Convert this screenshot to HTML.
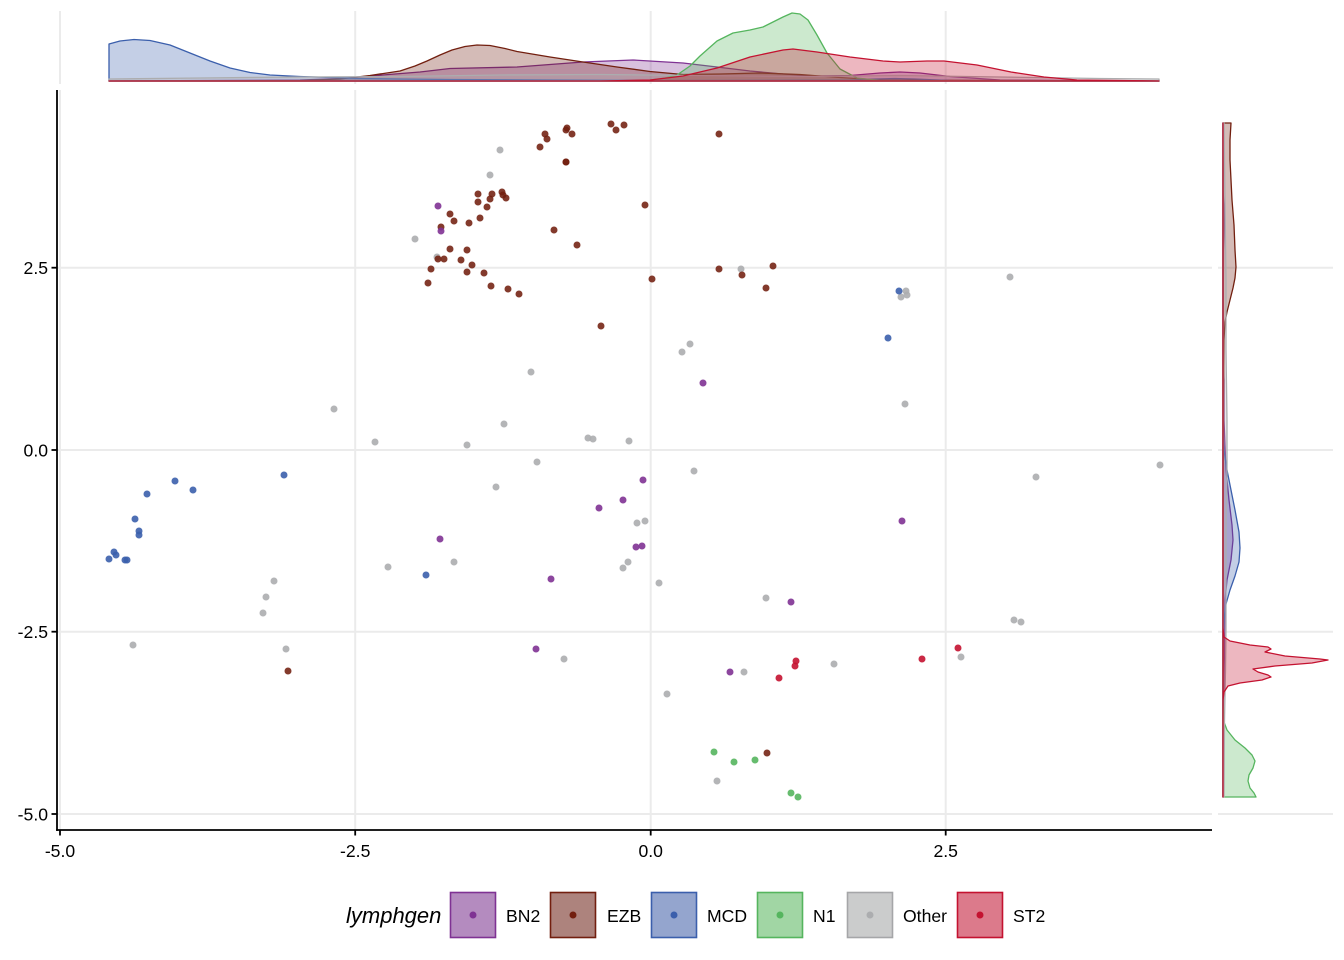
<!DOCTYPE html>
<html>
<head>
<meta charset="utf-8">
<style>
  html,body{margin:0;padding:0;background:#fff;}
  svg{display:block;}
  text{font-family:"Liberation Sans",Arial,sans-serif;fill:#000;}
</style>
</head>
<body>
<svg width="1344" height="960" viewBox="0 0 1344 960" xmlns="http://www.w3.org/2000/svg">
  <rect width="1344" height="960" fill="#fff"/>

  <!-- ===== Top marginal panel gridlines ===== -->
  <g stroke="#EBEBEB" stroke-width="2">
    <line x1="60" y1="11" x2="60" y2="84"/>
    <line x1="355.2" y1="11" x2="355.2" y2="84"/>
    <line x1="650.7" y1="11" x2="650.7" y2="84"/>
    <line x1="945.7" y1="11" x2="945.7" y2="84"/>
  </g>

  <!-- ===== Right marginal panel gridlines ===== -->
  <g stroke="#EBEBEB" stroke-width="2">
    <line x1="1218" y1="267.7" x2="1333" y2="267.7"/>
    <line x1="1218" y1="450" x2="1333" y2="450"/>
    <line x1="1218" y1="631.7" x2="1333" y2="631.7"/>
    <line x1="1218" y1="814" x2="1333" y2="814"/>
  </g>

  <!-- ===== Main panel gridlines ===== -->
  <g stroke="#EBEBEB" stroke-width="2">
    <line x1="60" y1="90" x2="60" y2="830"/>
    <line x1="355.2" y1="90" x2="355.2" y2="830"/>
    <line x1="650.7" y1="90" x2="650.7" y2="830"/>
    <line x1="945.7" y1="90" x2="945.7" y2="830"/>
    <line x1="57" y1="267.7" x2="1212" y2="267.7"/>
    <line x1="57" y1="450" x2="1212" y2="450"/>
    <line x1="57" y1="631.7" x2="1212" y2="631.7"/>
    <line x1="57" y1="814" x2="1212" y2="814"/>
  </g>

  <!-- ===== Top densities ===== -->
  <g stroke-width="1.3" stroke-linejoin="round" fill-opacity="0.3">
    <!-- BN2 -->
    <path fill="#7F3293" stroke="#7F3293" d="M109,81 L300,80 L340,78.5 L370,76 L420,72 L450,68.5 L517,67 L583,62 L633,60 L683,63 L717,67 L750,71 L783,74 L817,76 L850,75.5 L880,73 L900,72 L920,73 L950,76.5 L1000,80 L1159,81 Z"/>
    <!-- EZB -->
    <path fill="#721F0F" stroke="#721F0F" d="M109,81 L300,80.5 L340,79 L370,75.5 L400,71 L415,66 L427,61 L440,55 L452,50 L465,46.5 L477,45 L490,45.5 L505,48.5 L517,51.5 L550,57 L583,62 L617,67 L650,71.5 L683,74.5 L720,74 L760,73 L800,74.5 L840,77.5 L880,80 L1159,81 Z"/>
    <!-- MCD -->
    <path fill="#3B5FAC" stroke="#3B5FAC" d="M109,81 L109,44 L120,41 L134,39.5 L150,40.5 L170,45 L190,53 L210,61 L230,68 L250,72.5 L270,75 L300,76.5 L330,77.5 L360,78.5 L400,79 L450,79.5 L550,80 L650,80.5 L850,80 L875,79 L895,78.5 L915,79 L950,80.5 L1159,81 Z"/>
    <!-- N1 -->
    <path fill="#55B55E" stroke="#55B55E" d="M109,81 L620,81 L650,80 L665,78 L677,75 L690,66 L700,56 L717,41 L733,33 L750,30 L763,27 L775,21 L783,17 L792,13 L800,14 L808,20 L817,35 L827,53 L840,69 L857,78 L880,80.5 L1159,81 Z"/>
    <!-- Other -->
    <path fill="#ACADAF" stroke="#ACADAF" d="M109,81 L109,79 L200,78 L300,77 L400,76.5 L500,75 L600,74.5 L700,75.5 L800,76.5 L900,75.5 L1000,77 L1100,78.5 L1159,79 L1159,81 Z"/>
    <!-- ST2 -->
    <path fill="#C41230" stroke="#C41230" d="M109,81 L600,81 L650,80 L683,76 L717,68 L750,57 L783,50 L793,49 L817,52 L850,57 L883,61 L900,62 L927,61 L944,61 L977,65 L1011,72 L1044,77 L1077,80 L1159,81 Z"/>
  </g>

  <!-- ===== Right densities ===== -->
  <g stroke-width="1.3" stroke-linejoin="round" fill-opacity="0.3">
    <!-- BN2 -->
    <path fill="#7F3293" stroke="#7F3293" d="M1223,123 L1223,190 L1224.5,215 L1223.5,250 L1223,360 L1224,380 L1224,420 L1226,470 L1229,500 L1232,525 L1233,540 L1231,560 L1227,580 L1225,600 L1224.5,650 L1224,680 L1223,720 L1223,797 Z"/>
    <!-- EZB -->
    <path fill="#721F0F" stroke="#721F0F" d="M1223,123 L1231,123 L1230,140 L1230,160 L1231,180 L1232,200 L1234,225 L1235,250 L1236,267 L1235,278 L1233,288 L1230,300 L1227,312 L1225,322 L1224,340 L1223.5,400 L1223,797 Z"/>
    <!-- MCD -->
    <path fill="#3B5FAC" stroke="#3B5FAC" d="M1223,123 L1223,430 L1224,450 L1227,470 L1231,490 L1235,510 L1239,532 L1240,548 L1239,562 L1235,576 L1230,590 L1226,604 L1224,620 L1223,640 L1223,797 Z"/>
    <!-- N1 -->
    <path fill="#55B55E" stroke="#55B55E" d="M1223,123 L1223,705 L1224,722 L1227,730 L1235,740 L1245,748 L1252,755 L1255,761 L1253,768 L1249,775 L1248,781 L1250,788 L1254,793 L1256,797 L1223,797 Z"/>
    <!-- Other -->
    <path fill="#ACADAF" stroke="#ACADAF" d="M1223,123 L1224,123 L1225,200 L1226,280 L1226,350 L1227,420 L1227,470 L1226,530 L1226,580 L1226,630 L1225.5,670 L1224.5,720 L1224,797 L1223,797 Z"/>
    <!-- ST2 -->
    <path fill="#C41230" stroke="#C41230" d="M1223,123 L1223,628 L1224,637 L1230,641 L1250,645 L1268,647 L1271,649 L1265,652 L1285,656 L1320,659 L1328,660 L1312,663 L1275,666 L1253,669 L1258,672 L1268,675 L1271,677 L1262,680 L1240,683 L1228,686 L1224,692 L1223,700 L1223,797 Z"/>
  </g>

  <!-- ===== Points ===== -->
  <!-- Other -->
  <g fill="#ACADAF" fill-opacity="0.9">
    <circle cx="500" cy="150" r="3.5"/><circle cx="490" cy="175" r="3.5"/><circle cx="415" cy="239" r="3.5"/>
    <circle cx="437" cy="257" r="3.5"/><circle cx="741" cy="269" r="3.5"/><circle cx="1010" cy="277" r="3.5"/>
    <circle cx="906" cy="291" r="3.5"/><circle cx="901" cy="297" r="3.5"/><circle cx="907" cy="295" r="3.5"/>
    <circle cx="905" cy="404" r="3.5"/><circle cx="682" cy="352" r="3.5"/><circle cx="690" cy="344" r="3.5"/>
    <circle cx="531" cy="372" r="3.5"/><circle cx="334" cy="409" r="3.5"/><circle cx="375" cy="442" r="3.5"/>
    <circle cx="467" cy="445" r="3.5"/><circle cx="504" cy="424" r="3.5"/><circle cx="588" cy="438" r="3.5"/>
    <circle cx="593" cy="439" r="3.5"/><circle cx="629" cy="441" r="3.5"/><circle cx="537" cy="462" r="3.5"/>
    <circle cx="694" cy="471" r="3.5"/><circle cx="1160" cy="465" r="3.5"/><circle cx="1036" cy="477" r="3.5"/>
    <circle cx="496" cy="487" r="3.5"/><circle cx="637" cy="523" r="3.5"/><circle cx="645" cy="521" r="3.5"/>
    <circle cx="628" cy="562" r="3.5"/><circle cx="623" cy="568" r="3.5"/><circle cx="454" cy="562" r="3.5"/>
    <circle cx="388" cy="567" r="3.5"/><circle cx="274" cy="581" r="3.5"/><circle cx="266" cy="597" r="3.5"/>
    <circle cx="263" cy="613" r="3.5"/><circle cx="659" cy="583" r="3.5"/><circle cx="766" cy="598" r="3.5"/>
    <circle cx="1014" cy="620" r="3.5"/><circle cx="1021" cy="622" r="3.5"/><circle cx="133" cy="645" r="3.5"/>
    <circle cx="286" cy="649" r="3.5"/><circle cx="564" cy="659" r="3.5"/><circle cx="744" cy="672" r="3.5"/>
    <circle cx="834" cy="664" r="3.5"/><circle cx="961" cy="657" r="3.5"/><circle cx="667" cy="694" r="3.5"/>
    <circle cx="717" cy="781" r="3.5"/>
  </g>
  <!-- EZB -->
  <g fill="#721F0F" fill-opacity="0.88">
    <circle cx="611" cy="124" r="3.5"/><circle cx="616" cy="130" r="3.5"/><circle cx="624" cy="125" r="3.5"/>
    <circle cx="567" cy="128" r="3.5"/><circle cx="566" cy="130" r="3.5"/><circle cx="572" cy="134" r="3.5"/>
    <circle cx="545" cy="134" r="3.5"/><circle cx="547" cy="139" r="3.5"/><circle cx="540" cy="147" r="3.5"/>
    <circle cx="566" cy="162" r="3.5"/><circle cx="566" cy="162" r="3.5"/><circle cx="719" cy="134" r="3.5"/>
    <circle cx="478" cy="194" r="3.5"/><circle cx="478" cy="202" r="3.5"/><circle cx="492" cy="194" r="3.5"/>
    <circle cx="490" cy="199" r="3.5"/><circle cx="502" cy="192" r="3.5"/><circle cx="503" cy="195" r="3.5"/>
    <circle cx="506" cy="198" r="3.5"/><circle cx="487" cy="207" r="3.5"/><circle cx="645" cy="205" r="3.5"/>
    <circle cx="450" cy="214" r="3.5"/><circle cx="454" cy="221" r="3.5"/><circle cx="469" cy="223" r="3.5"/>
    <circle cx="480" cy="218" r="3.5"/><circle cx="554" cy="230" r="3.5"/><circle cx="577" cy="245" r="3.5"/>
    <circle cx="450" cy="249" r="3.5"/><circle cx="467" cy="250" r="3.5"/><circle cx="461" cy="260" r="3.5"/>
    <circle cx="472" cy="265" r="3.5"/><circle cx="467" cy="272" r="3.5"/><circle cx="484" cy="273" r="3.5"/>
    <circle cx="491" cy="286" r="3.5"/><circle cx="508" cy="289" r="3.5"/><circle cx="519" cy="294" r="3.5"/>
    <circle cx="652" cy="279" r="3.5"/><circle cx="719" cy="269" r="3.5"/><circle cx="742" cy="275" r="3.5"/>
    <circle cx="773" cy="266" r="3.5"/><circle cx="766" cy="288" r="3.5"/><circle cx="441" cy="227" r="3.5"/>
    <circle cx="438" cy="259" r="3.5"/><circle cx="444" cy="259" r="3.5"/><circle cx="431" cy="269" r="3.5"/>
    <circle cx="428" cy="283" r="3.5"/><circle cx="601" cy="326" r="3.5"/><circle cx="288" cy="671" r="3.5"/>
    <circle cx="767" cy="753" r="3.5"/>
  </g>
  <!-- BN2 -->
  <g fill="#7F3293" fill-opacity="0.9">
    <circle cx="438" cy="206" r="3.5"/><circle cx="441" cy="231" r="3.5"/><circle cx="703" cy="383" r="3.5"/>
    <circle cx="643" cy="480" r="3.5"/><circle cx="623" cy="500" r="3.5"/><circle cx="599" cy="508" r="3.5"/>
    <circle cx="902" cy="521" r="3.5"/><circle cx="636" cy="547" r="3.5"/><circle cx="642" cy="546" r="3.5"/>
    <circle cx="440" cy="539" r="3.5"/><circle cx="551" cy="579" r="3.5"/><circle cx="791" cy="602" r="3.5"/>
    <circle cx="536" cy="649" r="3.5"/><circle cx="730" cy="672" r="3.5"/>
  </g>
  <!-- MCD -->
  <g fill="#3B5FAC" fill-opacity="0.9">
    <circle cx="284" cy="475" r="3.5"/><circle cx="175" cy="481" r="3.5"/><circle cx="193" cy="490" r="3.5"/>
    <circle cx="147" cy="494" r="3.5"/><circle cx="135" cy="519" r="3.5"/><circle cx="139" cy="531" r="3.5"/>
    <circle cx="139" cy="535" r="3.5"/><circle cx="114" cy="552" r="3.5"/><circle cx="116" cy="555" r="3.5"/>
    <circle cx="109" cy="559" r="3.5"/><circle cx="125" cy="560" r="3.5"/><circle cx="127" cy="560" r="3.5"/>
    <circle cx="426" cy="575" r="3.5"/><circle cx="888" cy="338" r="3.5"/><circle cx="899" cy="291" r="3.5"/>
  </g>
  <!-- N1 -->
  <g fill="#55B55E" fill-opacity="0.9">
    <circle cx="714" cy="752" r="3.5"/><circle cx="734" cy="762" r="3.5"/><circle cx="755" cy="760" r="3.5"/>
    <circle cx="791" cy="793" r="3.5"/><circle cx="798" cy="797" r="3.5"/>
  </g>
  <!-- ST2 -->
  <g fill="#C41230" fill-opacity="0.9">
    <circle cx="796" cy="661" r="3.5"/><circle cx="795" cy="666" r="3.5"/><circle cx="779" cy="678" r="3.5"/>
    <circle cx="922" cy="659" r="3.5"/><circle cx="958" cy="648" r="3.5"/>
  </g>

  <!-- ===== Axes ===== -->
  <g stroke="#000" stroke-width="1.8" fill="none">
    <line x1="57" y1="90" x2="57" y2="830.9"/>
    <line x1="56.1" y1="830" x2="1212" y2="830"/>
    <!-- y ticks -->
    <line x1="51.5" y1="267.7" x2="57" y2="267.7"/>
    <line x1="51.5" y1="450" x2="57" y2="450"/>
    <line x1="51.5" y1="631.7" x2="57" y2="631.7"/>
    <line x1="51.5" y1="814" x2="57" y2="814"/>
    <!-- x ticks -->
    <line x1="60" y1="830" x2="60" y2="835.5"/>
    <line x1="355.2" y1="830" x2="355.2" y2="835.5"/>
    <line x1="650.7" y1="830" x2="650.7" y2="835.5"/>
    <line x1="945.7" y1="830" x2="945.7" y2="835.5"/>
  </g>
  <g font-size="17.6" text-anchor="end">
    <text x="48" y="274">2.5</text>
    <text x="48" y="456.3">0.0</text>
    <text x="48" y="638">-2.5</text>
    <text x="48" y="820.3">-5.0</text>
  </g>
  <g font-size="17.6" text-anchor="middle">
    <text x="60" y="857">-5.0</text>
    <text x="355.2" y="857">-2.5</text>
    <text x="650.7" y="857">0.0</text>
    <text x="945.7" y="857">2.5</text>
  </g>

  <!-- ===== Legend ===== -->
  <text x="346" y="923" font-size="22" font-style="italic">lymphgen</text>
  <g stroke-width="1.6">
    <rect x="450.5" y="892.5" width="45" height="45" fill="#B48BBF" stroke="#7F3293"/>
    <circle cx="473" cy="915" r="3.5" fill="#7F3293" stroke="none"/>
    <rect x="550.5" y="892.5" width="45" height="45" fill="#AD837D" stroke="#721F0F"/>
    <circle cx="573" cy="915" r="3.5" fill="#721F0F" stroke="none"/>
    <rect x="651.5" y="892.5" width="45" height="45" fill="#94A5CE" stroke="#3B5FAC"/>
    <circle cx="674" cy="915" r="3.5" fill="#3B5FAC" stroke="none"/>
    <rect x="757.5" y="892.5" width="45" height="45" fill="#A1D6A4" stroke="#55B55E"/>
    <circle cx="780" cy="915" r="3.5" fill="#55B55E" stroke="none"/>
    <rect x="847.5" y="892.5" width="45" height="45" fill="#CBCCCC" stroke="#A5A6A8"/>
    <circle cx="870" cy="915" r="3.5" fill="#ACADAF" stroke="none"/>
    <rect x="957.5" y="892.5" width="45" height="45" fill="#DC7A8B" stroke="#C41230"/>
    <circle cx="980" cy="915" r="3.5" fill="#C41230" stroke="none"/>
  </g>
  <g font-size="17.6">
    <text x="506" y="922">BN2</text>
    <text x="607" y="922">EZB</text>
    <text x="707" y="922">MCD</text>
    <text x="813" y="922">N1</text>
    <text x="903" y="922">Other</text>
    <text x="1013" y="922">ST2</text>
  </g>
</svg>
</body>
</html>
